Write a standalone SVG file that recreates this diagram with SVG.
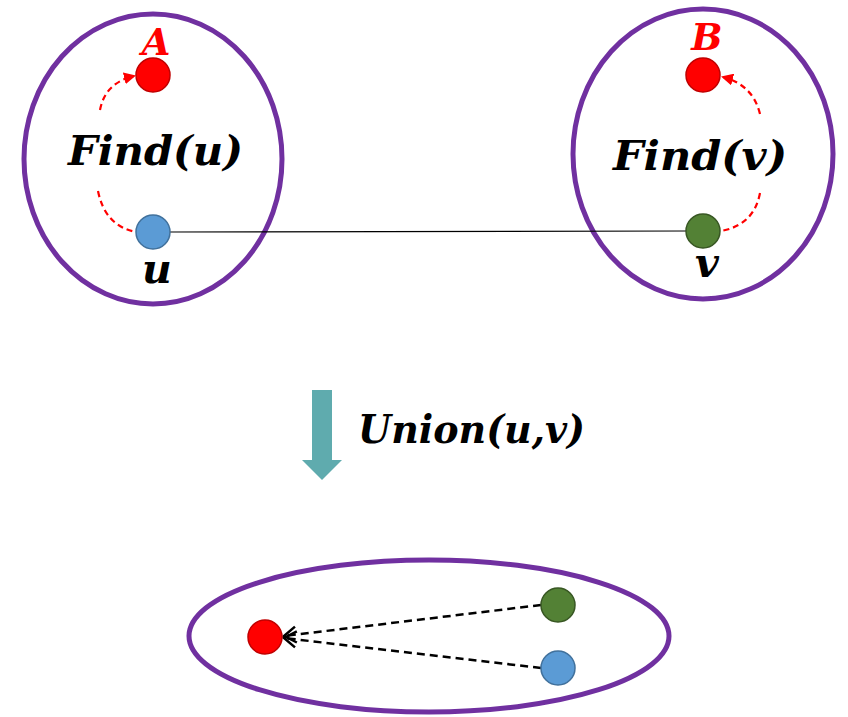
<svg xmlns="http://www.w3.org/2000/svg" width="848" height="717" viewBox="0 0 848 717">
  <style>
    .set { fill: none; stroke: #7030A0; stroke-width: 5; }
    .root { fill: #FF0000; stroke: #C00000; stroke-width: 1.5; }
    .blue { fill: #5B9BD5; stroke: #41719C; stroke-width: 1.5; }
    .green { fill: #538135; stroke: #385723; stroke-width: 1.5; }
    .math { font-family: "DejaVu Serif", "Liberation Serif", serif; font-style: italic; font-weight: bold; fill: #000; }
    .lbl { font-family: "DejaVu Serif", "Liberation Serif", serif; font-style: italic; font-weight: bold; fill: #FF0000; }
    .find { fill: none; stroke: #FF0000; stroke-width: 2.2; stroke-dasharray: 6 4; }
    .merge { fill: none; stroke: #000; stroke-width: 2.5; stroke-dasharray: 8 5; }
  </style>
  <defs>
    <marker id="redHead" markerWidth="12" markerHeight="12" refX="10" refY="6" orient="auto" markerUnits="userSpaceOnUse">
      <path d="M0,0 L12,6 L0,12 Z" fill="#FF0000"/>
    </marker>
    <marker id="openHead" markerWidth="18" markerHeight="20" refX="15" refY="10" orient="auto" markerUnits="userSpaceOnUse" overflow="visible">
      <path d="M3,2 L15,10 L3,18" fill="none" stroke="#000" stroke-width="2.5"/>
    </marker>
  </defs>

  <!-- sets before union -->
  <g id="setU">
    <ellipse class="set" cx="153" cy="159" rx="129" ry="145"/>
  </g>
  <g id="setV">
    <ellipse class="set" cx="703" cy="154" rx="130" ry="145"/>
  </g>

  <g id="connectors">
    <line x1="170" y1="232" x2="686" y2="231" stroke="#000" stroke-width="1.2"/>
    <path class="find" d="M100,110 Q105,83 134,76" marker-end="url(#redHead)"/>
    <path class="find" d="M98,191 Q105,226 136,232"/>
    <path class="find" d="M760,114 Q753,85 723,77" marker-end="url(#redHead)"/>
    <path class="find" d="M760,193 Q754,225 721,231"/>
    <path class="merge" d="M541,605 L284,636" marker-end="url(#openHead)"/>
    <path class="merge" d="M541,668 L284,638" marker-end="url(#openHead)"/>
  </g>

  <g id="rootA">
    <circle class="root" cx="153" cy="75" r="17"/>
    <text class="lbl" x="156" y="55" font-size="37" text-anchor="middle">A</text>
  </g>
  <g id="nodeU">
    <circle class="blue" cx="153" cy="232" r="17"/>
    <text class="math" x="157" y="283" font-size="41" text-anchor="middle">u</text>
  </g>
  <g id="findU">
    <text class="math" x="68" y="165" font-size="41" textLength="175" lengthAdjust="spacingAndGlyphs">Find(u)</text>
  </g>

  <g id="rootB">
    <circle class="root" cx="703" cy="75" r="17"/>
    <text class="lbl" x="707" y="50" font-size="37" text-anchor="middle">B</text>
  </g>
  <g id="nodeV">
    <circle class="green" cx="703" cy="231" r="17"/>
    <text class="math" x="707" y="277" font-size="41" text-anchor="middle">v</text>
  </g>
  <g id="findV">
    <text class="math" x="613" y="170" font-size="41" textLength="174" lengthAdjust="spacingAndGlyphs">Find(v)</text>
  </g>

  <!-- union step -->
  <g id="unionArrow">
    <path d="M312,390 H332 V460 H342 L322,480 L302,460 H312 Z" fill="#5FABAE"/>
    <text class="math" x="358" y="443" font-size="40" textLength="227" lengthAdjust="spacingAndGlyphs">Union(u,v)</text>
  </g>

  <!-- merged set -->
  <g id="mergedSet">
    <ellipse class="set" cx="429" cy="636" rx="240" ry="76"/>
  </g>
  <g id="mergedRoot">
    <circle class="root" cx="265" cy="637" r="17"/>
  </g>
  <g id="mergedV">
    <circle class="green" cx="558" cy="605" r="17"/>
  </g>
  <g id="mergedU">
    <circle class="blue" cx="558" cy="668" r="17"/>
  </g>
</svg>
